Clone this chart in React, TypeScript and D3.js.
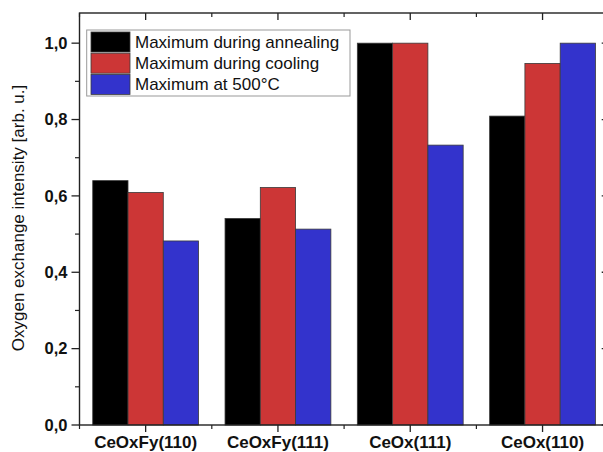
import React from "react";
import * as d3 from "d3";

const categories = ["CeOxFy(110)", "CeOxFy(111)", "CeOx(111)", "CeOx(110)"];
const seriesNames = ["Maximum during annealing", "Maximum during cooling", "Maximum at 500°C"];
const annealing = [0.64, 0.541, 1.0, 0.809];
const cooling = [0.609, 0.622, 1.0, 0.947];
const at500 = [0.482, 0.513, 0.733, 1.0];
const seriesColors = ["#000000", "#cc3636", "#3333cc"];
const yMajorTicks = [0, 0.2, 0.4, 0.6, 0.8, 1.0];
const yMinorTicks = [0.1, 0.3, 0.5, 0.7, 0.9];

const W = 603;
const H = 452;
const left = 79.5;
const right = 608.7;
const top = 13;
const bottom = 425;
const font = "'Liberation Sans', Arial, Helvetica, sans-serif";
const axisColor = "#222";

export default function App() {
  const series = [annealing, cooling, at500];
  const x = d3.scaleBand<string>().domain(categories).range([left, right]).paddingInner(0.2).paddingOuter(0.1);
  const xs = d3.scaleBand<number>().domain([0, 1, 2]).range([0, x.bandwidth()]).padding(0);
  const y = d3.scaleLinear().domain([0, 1.079]).range([bottom, top]);
  const fmt = (v: number) => d3.format(".1f")(v).replace(".", ",");

  const boundaries = d3.range(categories.length + 1).map((i) => left + i * x.step());
  const centers = categories.map((c) => (x(c) as number) + x.bandwidth() / 2);

  return (
    <svg width={W} height={H} style={{ position: "absolute", left: 0, top: 0, background: "#fff" }} fontFamily={font}>
      <rect x={0} y={0} width={W} height={H} fill="#fff" />
      {/* bars */}
      {categories.map((c, ci) =>
        series.map((s, si) => (
          <rect
            key={c + si}
            x={(x(c) as number) + (xs(si) as number)}
            y={y(s[ci])}
            width={xs.bandwidth()}
            height={y(0) - y(s[ci])}
            fill={seriesColors[si]}
            stroke="#3a3a3a"
            strokeWidth={0.8}
          />
        ))
      )}
      {/* frame */}
      <rect x={left} y={top} width={right - left} height={bottom - top} fill="none" stroke={axisColor} strokeWidth={1.4} />
      {/* left y ticks */}
      {yMajorTicks.map((t) => (
        <g key={"ym" + t}>
          <line x1={left - 8} x2={left} y1={y(t)} y2={y(t)} stroke={axisColor} strokeWidth={1.3} />
          <line x1={right - 7} x2={right} y1={y(t)} y2={y(t)} stroke={axisColor} strokeWidth={1.3} />
          <text x={left - 12} y={y(t)} dy="0.35em" textAnchor="end" fontWeight="bold" fontSize={16.5} fill="#111">
            {fmt(t)}
          </text>
        </g>
      ))}
      {yMinorTicks.map((t) => (
        <g key={"yn" + t}>
          <line x1={left - 4.5} x2={left} y1={y(t)} y2={y(t)} stroke={axisColor} strokeWidth={1.2} />
          <line x1={right - 4} x2={right} y1={y(t)} y2={y(t)} stroke={axisColor} strokeWidth={1.2} />
        </g>
      ))}
      {/* x ticks */}
      {centers.map((cx, i) => (
        <g key={"xc" + i}>
          <line x1={cx} x2={cx} y1={bottom} y2={bottom + 7} stroke={axisColor} strokeWidth={1.3} />
          <line x1={cx} x2={cx} y1={top} y2={top + 7} stroke={axisColor} strokeWidth={1.3} />
          <text x={cx} y={448} textAnchor="middle" fontWeight="bold" fontSize={17} fill="#111">
            {categories[i]}
          </text>
        </g>
      ))}
      {boundaries.map((bx, i) => (
        <g key={"xb" + i}>
          <line x1={bx} x2={bx} y1={bottom} y2={bottom + 4} stroke={axisColor} strokeWidth={1.2} />
          <line x1={bx} x2={bx} y1={top} y2={top + 4} stroke={axisColor} strokeWidth={1.2} />
        </g>
      ))}
      {/* y title */}
      <text
        transform={`translate(24, ${(y(0) + y(1.079)) / 2 - 1}) rotate(-90)`}
        textAnchor="middle"
        fontSize={17}
        fill="#111"
      >
        Oxygen exchange intensity [arb. u.]
      </text>
      {/* legend */}
      <g>
        <rect x={86.7} y={30} width={263.3} height={66} fill="#fff" stroke="#999" strokeWidth={1} />
        {seriesNames.map((n, i) => (
          <g key={n}>
            <rect x={91} y={32 + i * 21.2} width={39} height={20} fill={seriesColors[i]} stroke="#3a3a3a" strokeWidth={0.8} />
            <text x={135} y={47.5 + i * 21.2} fontSize={17} fill="#111">
              {n}
            </text>
          </g>
        ))}
      </g>
    </svg>
  );
}
